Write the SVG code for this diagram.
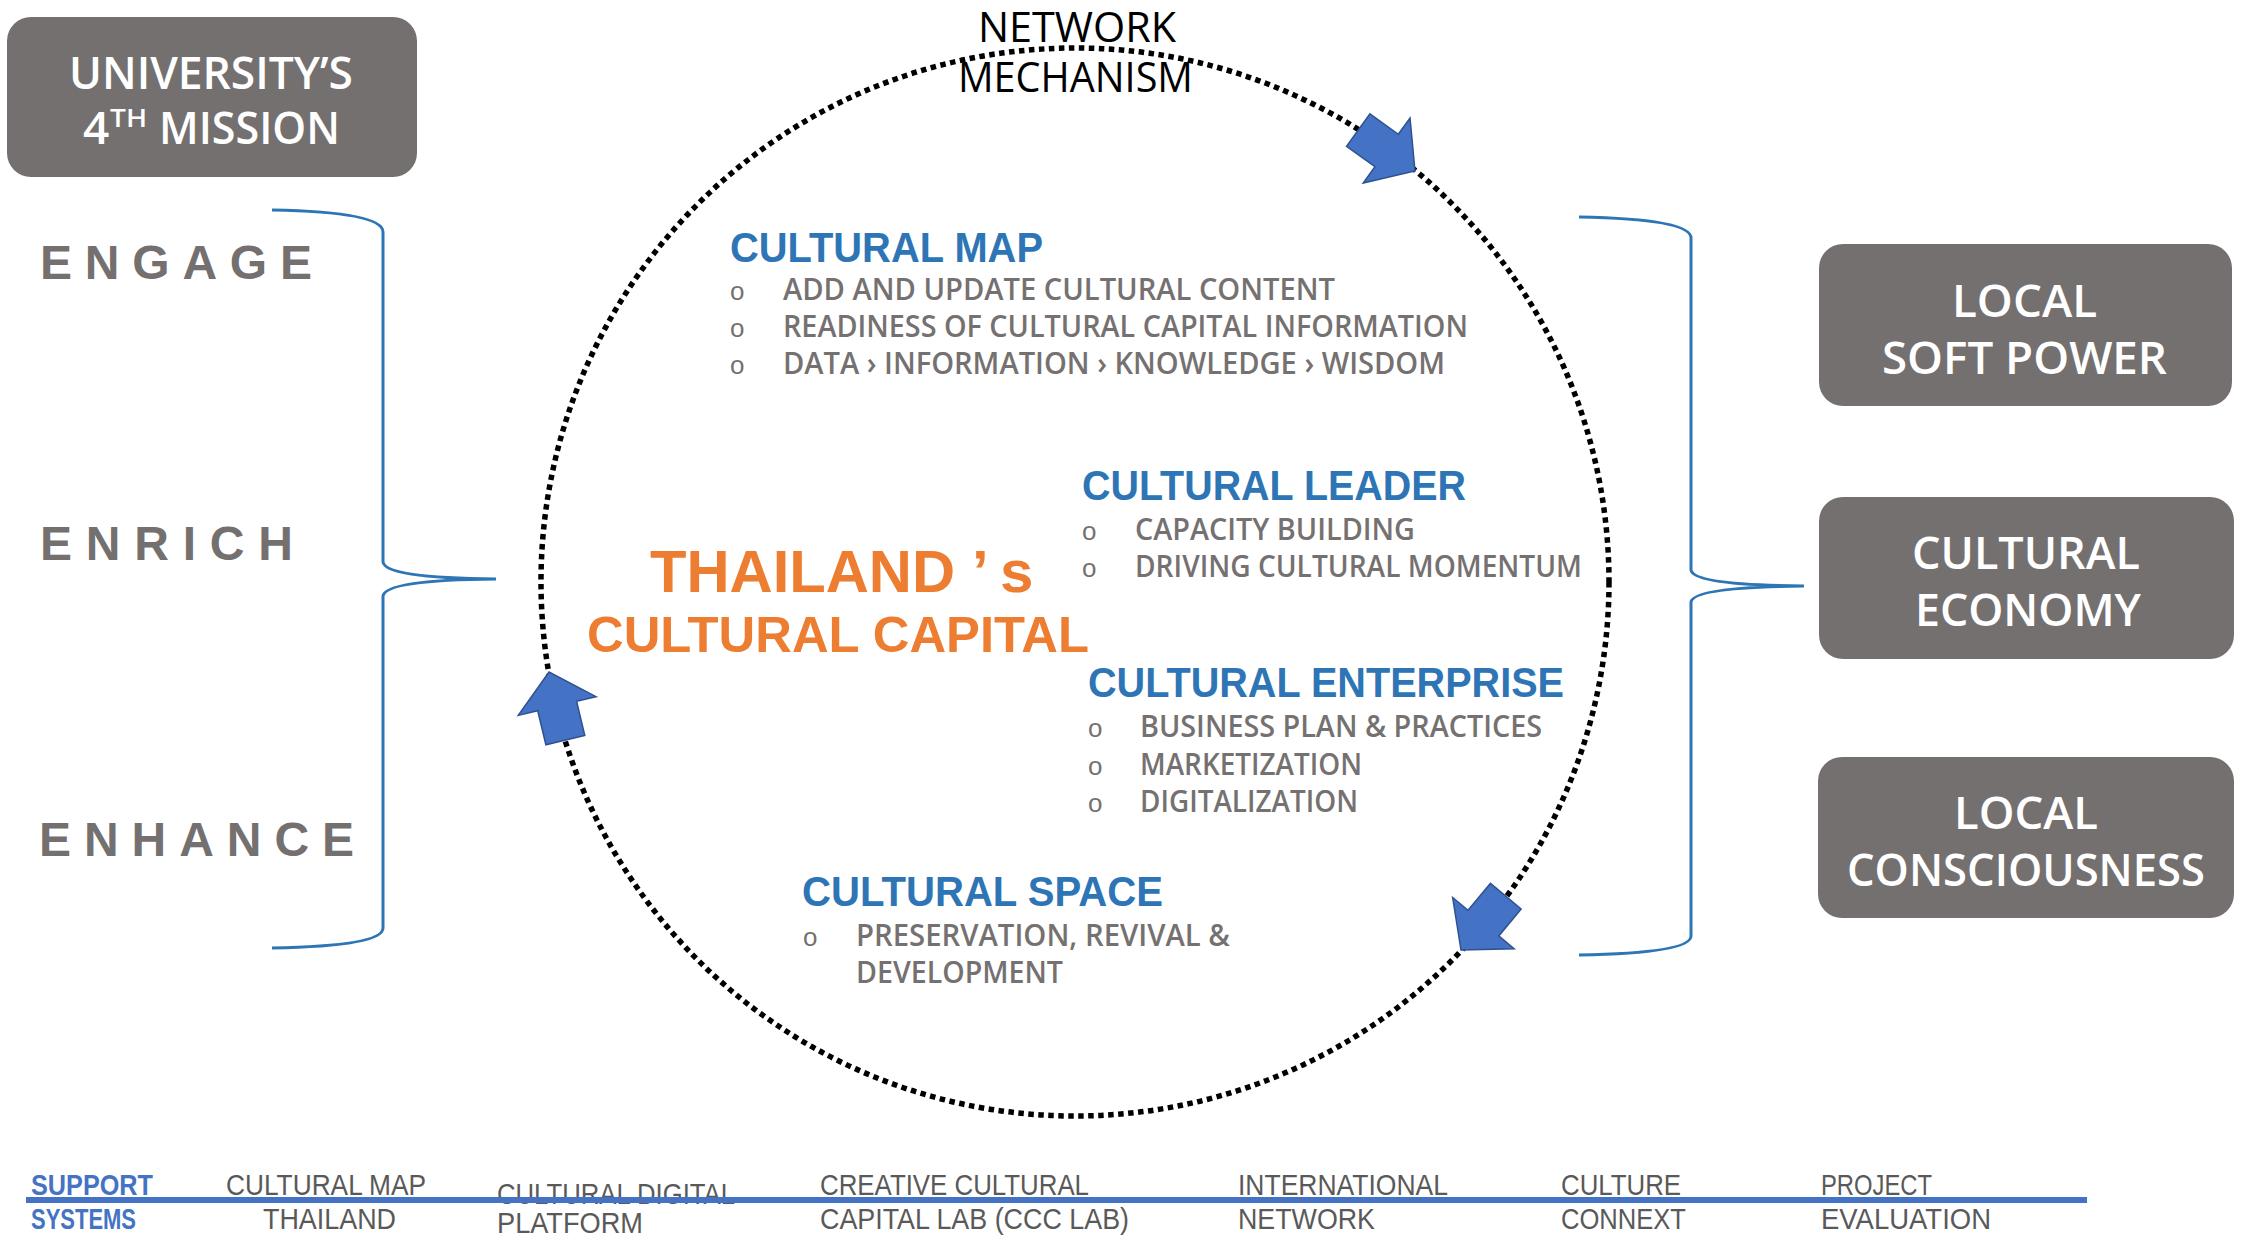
<svg xmlns="http://www.w3.org/2000/svg" width="2241" height="1239" viewBox="0 0 2241 1239">
<style>
.box{fill:#747070}
.bt{fill:#fff;font-family:"Open Sans","Liberation Sans",sans-serif;font-size:46px;font-weight:600}
.verb{fill:#747070;font-family:"Liberation Sans",Arial,sans-serif;font-weight:bold;font-size:48px}
.head{fill:#2E75B6;font-family:"Liberation Sans",Arial,sans-serif;font-weight:bold;font-size:42px}
.item{fill:#767171;font-family:"Open Sans","Liberation Sans",sans-serif;font-size:30px;font-weight:600}
.bul{fill:#767171;font-family:"Liberation Sans",Arial,sans-serif;font-size:26px}
.orange{fill:#ED7D31;font-family:"Liberation Sans",Arial,sans-serif;font-weight:bold}
.sup{fill:#595959;font-family:"Liberation Sans Narrow","Liberation Sans",sans-serif;font-size:30px}
.supb{fill:#4472C4;font-family:"Liberation Sans Narrow","Liberation Sans",sans-serif;font-size:30px;font-weight:bold}
.net{fill:#000;font-family:"Open Sans","Liberation Sans",sans-serif;font-size:42px;font-weight:500}
.brace{fill:none;stroke:#2E75B6;stroke-width:3}
.ring{fill:none;stroke:#000;stroke-width:5.5;stroke-dasharray:5.5 4.5}
.arrow{fill:#4472C4;stroke:#2F528F;stroke-width:1.5}
</style>
<defs>
<polygon id="blk" points="-70,-20 -35,-20 -35,-40 0,0 -35,40 -35,20 -70,20"/>
</defs>
<rect width="2241" height="1239" fill="#fff"/>

<g id="connectors">
<circle class="ring" cx="1075" cy="582" r="534"/>
<path class="brace" d="M272,210 Q383,212 383,232 L383,562 Q385,578 496,579 Q385,580 383,596 L383,928 Q383,946 272,948"/>
<path class="brace" d="M1579,217 Q1691,219 1691,238 L1691,570 Q1693,585 1804,586 Q1693,587 1691,602 L1691,936 Q1691,953 1579,955"/>
<use href="#blk" class="arrow" transform="translate(1415,171) rotate(35.8)"/>
<use href="#blk" class="arrow" transform="translate(1461,950) rotate(129.8)"/>
<use href="#blk" class="arrow" transform="translate(549,672) rotate(-103.5)"/>
</g>

<g id="node-mission">
<rect class="box" x="7" y="17" width="410" height="160" rx="24"/>
<text class="bt" x="69" y="89" font-size="48" textLength="284" lengthAdjust="spacingAndGlyphs">UNIVERSITY’S</text>
<text class="bt" x="83" y="144" font-size="48">4<tspan x="110" y="127" font-size="26" textLength="37" lengthAdjust="spacingAndGlyphs">TH</tspan><tspan x="159" y="144" textLength="181" lengthAdjust="spacingAndGlyphs">MISSION</tspan></text>
</g>

<g id="node-engage"><text class="verb" x="40" y="279" textLength="272" lengthAdjust="spacing">ENGAGE</text></g>
<g id="node-enrich"><text class="verb" x="40" y="560" textLength="253" lengthAdjust="spacing">ENRICH</text></g>
<g id="node-enhance"><text class="verb" x="39" y="856" textLength="315" lengthAdjust="spacing">ENHANCE</text></g>

<g id="node-network-mechanism">
<text class="net" x="978" y="42" textLength="198" lengthAdjust="spacingAndGlyphs">NETWORK</text>
<text class="net" x="958" y="92" textLength="235" lengthAdjust="spacingAndGlyphs">MECHANISM</text>
</g>

<g id="node-cultural-map">
<text class="head" x="730" y="262" textLength="313" lengthAdjust="spacingAndGlyphs">CULTURAL MAP</text>
<text class="bul" x="730" y="300">o</text>
<text class="bul" x="730" y="337">o</text>
<text class="bul" x="730" y="374">o</text>
<text class="item" x="783" y="300" textLength="552" lengthAdjust="spacingAndGlyphs">ADD AND UPDATE CULTURAL CONTENT</text>
<text class="item" x="783" y="337" textLength="685" lengthAdjust="spacingAndGlyphs">READINESS OF CULTURAL CAPITAL INFORMATION</text>
<text class="item" x="783" y="374" textLength="662" lengthAdjust="spacingAndGlyphs">DATA › INFORMATION  › KNOWLEDGE › WISDOM</text>
</g>

<g id="node-cultural-leader">
<text class="head" x="1082" y="500" textLength="384" lengthAdjust="spacingAndGlyphs">CULTURAL LEADER</text>
<text class="bul" x="1082" y="540">o</text>
<text class="bul" x="1082" y="577">o</text>
<text class="item" x="1135" y="540" textLength="280" lengthAdjust="spacingAndGlyphs">CAPACITY BUILDING</text>
<text class="item" x="1135" y="577" textLength="447" lengthAdjust="spacingAndGlyphs">DRIVING CULTURAL MOMENTUM</text>
</g>

<g id="node-thailand">
<text class="orange" font-size="60" y="592"><tspan x="650" textLength="305" lengthAdjust="spacingAndGlyphs">THAILAND</tspan><tspan x="972">’</tspan><tspan x="1000">s</tspan></text>
<text class="orange" font-size="50" x="587" y="652" textLength="502" lengthAdjust="spacingAndGlyphs">CULTURAL  CAPITAL</text>
</g>

<g id="node-cultural-enterprise">
<text class="head" x="1088" y="697" textLength="476" lengthAdjust="spacingAndGlyphs">CULTURAL ENTERPRISE</text>
<text class="bul" x="1088" y="737">o</text>
<text class="bul" x="1088" y="775">o</text>
<text class="bul" x="1088" y="812">o</text>
<text class="item" x="1140" y="737" textLength="402" lengthAdjust="spacingAndGlyphs">BUSINESS PLAN &amp; PRACTICES</text>
<text class="item" x="1140" y="775" textLength="222" lengthAdjust="spacingAndGlyphs">MARKETIZATION</text>
<text class="item" x="1140" y="812" textLength="218" lengthAdjust="spacingAndGlyphs">DIGITALIZATION</text>
</g>

<g id="node-cultural-space">
<text class="head" x="802" y="906" textLength="361" lengthAdjust="spacingAndGlyphs">CULTURAL SPACE</text>
<text class="bul" x="803" y="946">o</text>
<text class="item" x="856" y="946" textLength="374" lengthAdjust="spacingAndGlyphs">PRESERVATION, REVIVAL &amp;</text>
<text class="item" x="856" y="983" textLength="207" lengthAdjust="spacingAndGlyphs">DEVELOPMENT</text>
</g>

<g id="node-soft-power">
<rect class="box" x="1819" y="244" width="413" height="162" rx="24"/>
<text class="bt" x="1952" y="317" textLength="145" lengthAdjust="spacingAndGlyphs">LOCAL</text>
<text class="bt" x="1882" y="374" textLength="285" lengthAdjust="spacingAndGlyphs">SOFT POWER</text>
</g>
<g id="node-cultural-economy">
<rect class="box" x="1819" y="497" width="415" height="162" rx="24"/>
<text class="bt" x="1912" y="569" textLength="228" lengthAdjust="spacingAndGlyphs">CULTURAL</text>
<text class="bt" x="1915" y="626" textLength="226" lengthAdjust="spacingAndGlyphs">ECONOMY</text>
</g>
<g id="node-local-consciousness">
<rect class="box" x="1818" y="757" width="416" height="161" rx="24"/>
<text class="bt" x="1954" y="829" textLength="144" lengthAdjust="spacingAndGlyphs">LOCAL</text>
<text class="bt" x="1847" y="886" textLength="358" lengthAdjust="spacingAndGlyphs">CONSCIOUSNESS</text>
</g>

<g id="node-support-systems">
<text class="supb" x="31" y="1195" textLength="122" lengthAdjust="spacingAndGlyphs">SUPPORT</text>
<text class="supb" x="31" y="1229" textLength="105" lengthAdjust="spacingAndGlyphs">SYSTEMS</text>
<text class="sup" x="226" y="1195" textLength="200" lengthAdjust="spacingAndGlyphs">CULTURAL MAP</text>
<text class="sup" x="263" y="1229" textLength="133" lengthAdjust="spacingAndGlyphs">THAILAND</text>
<text class="sup" x="497" y="1204" textLength="238" lengthAdjust="spacingAndGlyphs">CULTURAL DIGITAL</text>
<text class="sup" x="497" y="1233" textLength="146" lengthAdjust="spacingAndGlyphs">PLATFORM</text>
<text class="sup" x="820" y="1195" textLength="269" lengthAdjust="spacingAndGlyphs">CREATIVE CULTURAL</text>
<text class="sup" x="820" y="1229" textLength="309" lengthAdjust="spacingAndGlyphs">CAPITAL LAB (CCC LAB)</text>
<text class="sup" x="1238" y="1195" textLength="210" lengthAdjust="spacingAndGlyphs">INTERNATIONAL</text>
<text class="sup" x="1238" y="1229" textLength="137" lengthAdjust="spacingAndGlyphs">NETWORK</text>
<text class="sup" x="1561" y="1195" textLength="120" lengthAdjust="spacingAndGlyphs">CULTURE</text>
<text class="sup" x="1561" y="1229" textLength="125" lengthAdjust="spacingAndGlyphs">CONNEXT</text>
<text class="sup" x="1821" y="1195" textLength="111" lengthAdjust="spacingAndGlyphs">PROJECT</text>
<text class="sup" x="1821" y="1229" textLength="170" lengthAdjust="spacingAndGlyphs">EVALUATION</text>
<line x1="26" y1="1200" x2="2087" y2="1200" stroke="#4472C4" stroke-width="6"/>
</g>
</svg>
